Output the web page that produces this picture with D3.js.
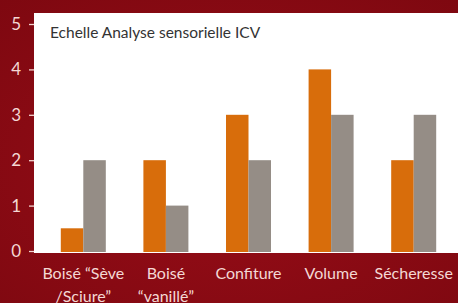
<!DOCTYPE html>
<html>
<head>
<meta charset="utf-8">
<script src="https://cdn.jsdelivr.net/npm/d3@7"></script>
<style>
html,body{margin:0;padding:0;background:#8a0a12;}
svg{display:block;}
</style>
</head>
<body>
<svg id="chart" width="458" height="303"></svg>
<script>
const categories = ["Boisé “Sève\n/Sciure”", "Boisé\n“vanillé”", "Confiture", "Volume", "Sécheresse"];
const orangeValues = [0.5, 2, 3, 4, 2];
const grayValues = [2, 1, 2, 3, 3];
const yTicks = [0, 1, 2, 3, 4, 5];
const title = "Echelle Analyse sensorielle ICV";

const W = 458, H = 303;
const svg = d3.select("#chart");

const defs = svg.append("defs");
const grad = defs.append("radialGradient").attr("id","bg").attr("cx","50%").attr("cy","55%").attr("r","75%");
grad.append("stop").attr("offset","0%").attr("stop-color","#980d18");
grad.append("stop").attr("offset","100%").attr("stop-color","#7e0810");
svg.append("rect").attr("width",W).attr("height",H).attr("fill","url(#bg)");

const plot = {left:34, right:458, top:13, bottom:253};
svg.append("rect").attr("x",plot.left).attr("y",plot.top)
  .attr("width",plot.right-plot.left).attr("height",plot.bottom-plot.top).attr("fill","#ffffff");

const x = d3.scaleBand().domain(categories).range([42, 455]).paddingInner(0).paddingOuter(0);
const inner = d3.scaleBand().domain(["o","g"]).range([-22.5, 22.5]);
const y = d3.scaleLinear().domain([0,5]).range([251, 24]);

const groups = svg.append("g").selectAll("g").data(categories).join("g")
  .attr("transform", d => `translate(${x(d)+x.bandwidth()/2},0)`);
groups.append("rect")
  .attr("x", inner("o")).attr("width", inner.bandwidth())
  .attr("y", (d,i) => y(orangeValues[i])).attr("height", (d,i) => 252 - y(orangeValues[i]))
  .attr("fill", "#d86d0b");
groups.append("rect")
  .attr("x", inner("g")).attr("width", inner.bandwidth())
  .attr("y", (d,i) => y(grayValues[i])).attr("height", (d,i) => 252 - y(grayValues[i]))
  .attr("fill", "#958d86");

// y axis
const yAxis = d3.axisLeft(y).tickValues(yTicks).tickSize(5).tickPadding(8).tickFormat(d3.format("d"));
const ya = svg.append("g").attr("transform", `translate(${plot.left},0)`).call(yAxis);
ya.select(".domain").remove();
ya.selectAll(".tick line").attr("stroke","#f2d3cf").attr("stroke-width",1.3);
ya.selectAll(".tick text").attr("fill","#f4d8d4").style("font-family","Lato, 'Open Sans', sans-serif").style("font-size","17px");

// x labels
const xl = svg.append("g");
categories.forEach(c => {
  const lines = c.split("\n");
  const t = xl.append("text")
    .attr("x", x(c)+x.bandwidth()/2).attr("y", 279)
    .attr("text-anchor","middle").attr("fill","#f4d8d4")
    .style("font-family","Lato, 'Open Sans', sans-serif").style("font-size","16px");
  lines.forEach((l,i) => t.append("tspan").attr("x", x(c)+x.bandwidth()/2).attr("dy", i===0?0:23).text(l));
});

svg.append("text").attr("x",50).attr("y",38).text(title)
  .attr("fill","#333333").style("font-family","Lato, 'Open Sans', sans-serif").style("font-size","15.5px");
</script>
</body>
</html>
